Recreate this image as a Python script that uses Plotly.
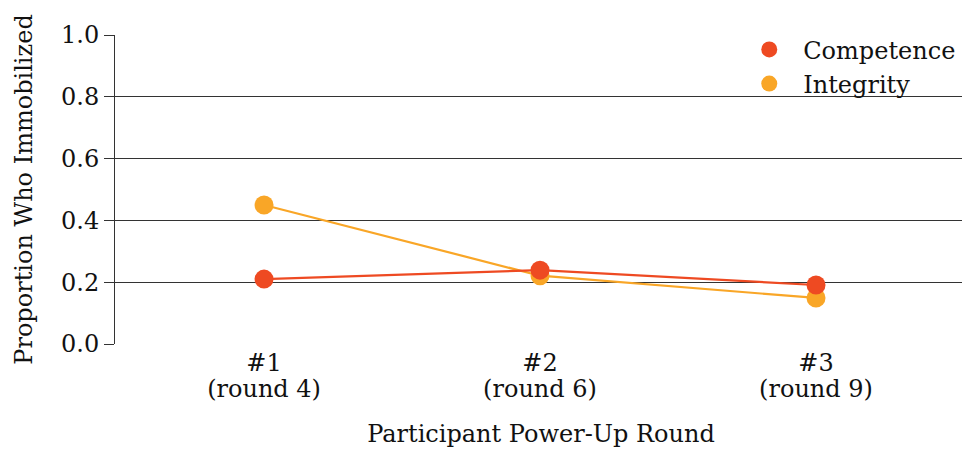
import plotly.graph_objects as go

round_numbers = ["#1", "#2", "#3"]
round_labels = ["(round 4)", "(round 6)", "(round 9)"]
competence = [0.210, 0.239, 0.191]
integrity = [0.450, 0.221, 0.149]
y_ticks = [0.0, 0.2, 0.4, 0.6, 0.8, 1.0]
y_tick_labels = ["0.0", "0.2", "0.4", "0.6", "0.8", "1.0"]

RED = "#EE4A22"
ORANGE = "#F9A627"
FONT = "DejaVu Serif"
FS = 24

fig = go.Figure()
xs = list(range(len(round_numbers)))
fig.add_trace(go.Scatter(x=xs, y=integrity, mode="lines+markers", name="Integrity",
                         line=dict(color=ORANGE, width=2.2), marker=dict(size=19, color=ORANGE),
                         showlegend=False))
fig.add_trace(go.Scatter(x=xs, y=competence, mode="lines+markers", name="Competence",
                         line=dict(color=RED, width=2.2), marker=dict(size=19, color=RED),
                         showlegend=False))
# legend entries (markers only)
fig.add_trace(go.Scatter(x=[None], y=[None], mode="markers", name="Competence",
                         marker=dict(size=19, color=RED)))
fig.add_trace(go.Scatter(x=[None], y=[None], mode="markers", name="Integrity",
                         marker=dict(size=19, color=ORANGE)))
# invisible trace on secondary x axis for the second tick-label row
fig.add_trace(go.Scatter(x=xs, y=competence, xaxis="x2", mode="markers",
                         marker=dict(opacity=0), showlegend=False, hoverinfo="skip"))

x_range = [-0.54, 2.547]
fig.update_layout(
    width=970, height=450,
    margin=dict(l=107, r=11, t=27, b=114),
    paper_bgcolor="white", plot_bgcolor="white",
    font=dict(family=FONT, size=FS, color="#111111"),
    legend=dict(x=0.728, y=1.025, xanchor="left", yanchor="top", bgcolor="rgba(0,0,0,0)",
                font=dict(size=FS), itemsizing="trace", itemwidth=58, tracegroupgap=0),
    xaxis=dict(range=x_range, tickvals=xs, ticktext=round_numbers, automargin=False,
               showgrid=False, zeroline=False, showline=False, ticks="",
               ticklabelstandoff=2, tickfont=dict(size=FS)),
    xaxis2=dict(range=x_range, tickvals=xs, ticktext=round_labels, automargin=False,
                overlaying="x", side="bottom", anchor="y",
                showgrid=False, zeroline=False, showline=False, ticks="",
                ticklabelstandoff=28, tickfont=dict(size=FS),
                title=dict(text="Participant Power-Up Round", standoff=23, font=dict(size=FS))),
    yaxis=dict(range=[0, 1.0], tickvals=y_ticks, ticktext=y_tick_labels, automargin=False,
               showgrid=True, gridcolor="#333333", gridwidth=1,
               zeroline=False, showline=True, linecolor="#333333", linewidth=1,
               ticks="outside", ticklen=10, tickcolor="#333333",
               title=dict(text="Proportion Who Immobilized", standoff=21, font=dict(size=FS)),
               tickfont=dict(size=FS)),
)
fig.write_html("out.html")
